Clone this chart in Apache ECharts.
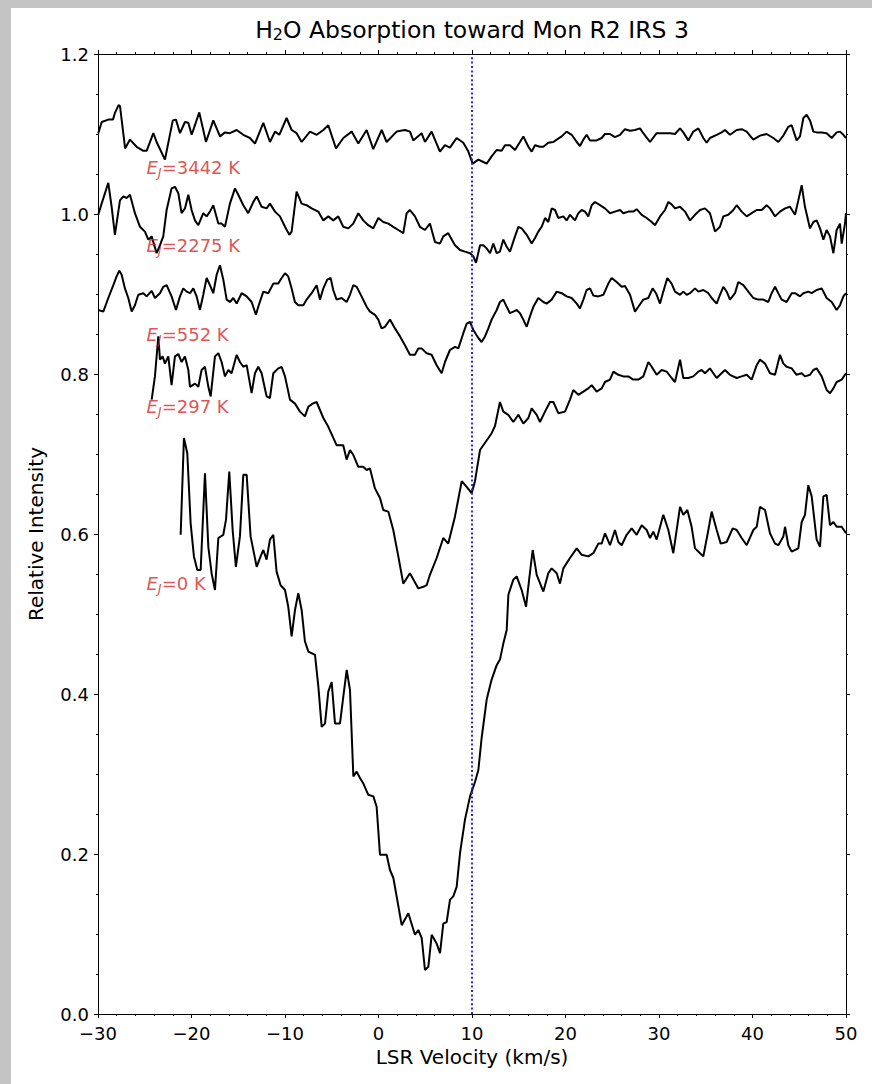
<!DOCTYPE html>
<html>
<head>
<meta charset="utf-8">
<script src="https://cdn.jsdelivr.net/npm/echarts@6/dist/echarts.min.js"></script>
<style>
html,body{margin:0;padding:0;background:#c4c4c4;}
#chart{width:872px;height:1084px;}
</style>
</head>
<body>
<div id="chart"></div>
<script>
// ---- data ----
const xTicks = [-30, -20, -10, 0, 10, 20, 30, 40, 50];
const yTicks = [0.0, 0.2, 0.4, 0.6, 0.8, 1.0, 1.2];
const restVelocity = 10;

const vel3442 = [-29.97,-29.6,-28.9,-28.4,-28.2,-27.8,-27.65,-27.1,-26.58,-25.87,-25.15,-24.8,-24.08,-23.73,-22.84,-22.0,-21.66,-21.23,-20.7,-20.34,-19.98,-19.17,-18.45,-17.67,-16.95,-16.42,-15.89,-15.17,-14.46,-13.75,-13.21,-12.32,-11.61,-11.07,-10.61,-9.83,-9.29,-8.76,-8.22,-7.33,-6.61,-5.9,-5.37,-4.55,-3.76,-2.87,-2.16,-1.27,-0.56,0.34,0.87,1.94,2.83,3.37,3.72,4.61,4.97,5.68,6.57,7.11,7.64,8.36,9.07,9.61,10.07,10.68,11.21,11.57,12.1,12.64,13.17,13.53,14.06,14.6,15.13,15.49,16.03,16.38,16.74,17.27,17.63,18.16,18.7,19.06,19.59,20.12,20.66,21.2,21.55,21.91,22.26,22.62,23.33,23.87,24.22,24.76,25.29,25.83,26.36,26.9,27.43,27.97,28.32,29.04,29.75,30.46,31.18,31.71,32.25,32.6,33.14,33.67,34.21,34.74,35.1,35.45,36.17,36.7,37.06,37.59,38.31,38.84,39.38,39.73,40.09,40.8,41.51,42.23,42.76,43.3,43.83,44.19,44.72,45.08,45.44,45.79,46.15,46.51,46.86,47.4,47.93,48.47,49.0,49.36,49.72,50.0];
const int3442 = [1.101,1.115,1.118,1.118,1.126,1.136,1.135,1.082,1.093,1.084,1.079,1.079,1.101,1.090,1.068,1.117,1.118,1.101,1.115,1.114,1.099,1.127,1.090,1.117,1.097,1.102,1.101,1.105,1.099,1.095,1.088,1.114,1.090,1.103,1.099,1.120,1.105,1.101,1.090,1.103,1.099,1.105,1.111,1.082,1.095,1.103,1.088,1.105,1.081,1.105,1.090,1.103,1.105,1.103,1.092,1.101,1.090,1.103,1.078,1.086,1.083,1.095,1.089,1.078,1.063,1.068,1.065,1.063,1.072,1.080,1.079,1.086,1.086,1.080,1.090,1.097,1.084,1.078,1.086,1.084,1.084,1.089,1.090,1.093,1.097,1.103,1.099,1.090,1.085,1.093,1.099,1.092,1.092,1.095,1.100,1.100,1.096,1.099,1.106,1.104,1.105,1.107,1.101,1.090,1.101,1.101,1.101,1.100,1.107,1.102,1.092,1.103,1.107,1.095,1.089,1.095,1.099,1.102,1.105,1.099,1.105,1.106,1.103,1.098,1.093,1.098,1.100,1.095,1.090,1.098,1.109,1.111,1.092,1.097,1.120,1.124,1.117,1.103,1.102,1.102,1.101,1.095,1.102,1.103,1.099,1.095];

const vel2275 = [-29.97,-29.61,-28.9,-28.54,-28.19,-27.65,-27.29,-26.94,-26.58,-26.05,-25.51,-24.98,-24.62,-24.26,-23.73,-23.37,-23.02,-22.66,-22.13,-21.77,-21.41,-21.06,-20.7,-20.34,-19.99,-19.63,-19.27,-18.74,-18.38,-18.03,-17.67,-17.13,-16.78,-16.42,-15.89,-15.35,-15.0,-14.46,-13.93,-13.39,-13.03,-12.5,-11.97,-11.61,-11.07,-10.54,-10.0,-9.54,-9.29,-8.76,-8.22,-7.69,-7.15,-6.44,-5.9,-5.37,-4.84,-4.3,-3.77,-3.23,-2.7,-2.16,-1.63,-1.09,-0.56,-0.02,0.51,1.05,1.58,2.12,2.65,3.01,3.36,3.9,4.43,4.97,5.5,6.04,6.57,6.93,7.46,8.18,8.72,9.25,9.79,10.14,10.43,10.86,11.21,11.57,11.93,12.28,12.64,12.99,13.35,13.71,14.06,14.6,14.96,15.31,15.85,16.38,16.74,17.09,17.45,17.81,18.16,18.52,18.88,19.23,19.77,20.12,20.48,21.02,21.37,21.73,22.09,22.44,22.8,23.15,23.69,24.22,24.76,25.29,25.83,26.19,26.72,27.25,27.61,28.15,28.68,29.22,29.57,30.11,30.64,31.0,31.35,31.71,32.25,32.78,33.32,33.85,34.39,34.92,35.45,35.99,36.52,36.88,37.41,37.95,38.31,38.84,39.38,39.91,40.45,40.98,41.51,41.87,42.41,42.94,43.48,44.01,44.55,44.9,45.26,45.61,46.15,46.51,46.86,47.22,47.58,47.93,48.29,48.65,49.0,49.36,49.54,49.89,50.0];
const int2275 = [0.999,1.013,1.039,1.009,0.974,1.017,1.022,1.020,1.024,1.001,0.984,0.978,0.968,0.972,0.951,0.961,0.972,1.005,1.032,1.034,1.026,1.001,1.007,1.024,1.005,0.992,0.986,1.001,0.997,1.003,1.011,0.988,0.988,0.984,1.013,1.032,1.024,1.011,1.001,1.015,1.022,1.009,1.007,1.013,1.003,0.997,0.984,0.974,0.978,1.028,1.013,1.011,1.007,1.003,0.992,0.997,0.992,0.997,0.984,0.982,0.988,1.001,0.992,0.986,0.982,0.995,0.990,0.988,0.984,0.980,0.976,1.001,1.005,0.997,0.984,0.980,0.988,0.965,0.963,0.972,0.976,0.961,0.955,0.953,0.951,0.947,0.939,0.961,0.961,0.957,0.951,0.963,0.951,0.953,0.968,0.959,0.953,0.972,0.984,0.982,0.974,0.963,0.970,0.978,0.984,0.995,0.990,1.007,1.005,0.995,0.997,0.992,0.999,0.992,1.001,1.005,1.003,0.997,1.011,1.015,1.011,1.007,1.001,1.003,1.005,1.001,1.003,1.003,1.006,0.999,0.995,0.990,0.986,0.997,1.005,1.015,1.012,1.007,1.009,1.003,0.992,0.999,1.005,1.007,1.001,0.978,0.984,0.997,0.999,1.005,1.011,1.003,0.997,1.001,1.005,1.005,1.011,1.007,0.997,1.003,1.007,1.009,0.999,1.017,1.036,1.009,0.982,0.990,0.992,0.982,0.968,0.980,0.972,0.951,0.980,0.988,0.963,0.988,1.001];

const vel552 = [-29.97,-29.43,-28.9,-28.36,-28.01,-27.72,-27.47,-27.12,-26.76,-26.4,-26.05,-25.69,-25.15,-24.8,-24.26,-23.91,-23.37,-23.02,-22.66,-22.13,-21.66,-21.23,-20.88,-20.52,-20.16,-19.81,-19.45,-19.1,-18.74,-18.38,-18.03,-17.67,-17.31,-16.96,-16.6,-16.24,-15.89,-15.53,-15.17,-14.64,-14.1,-13.57,-13.11,-12.86,-12.32,-11.79,-11.25,-10.72,-10.36,-10.0,-9.65,-9.29,-8.94,-8.58,-8.04,-7.69,-7.15,-6.62,-6.26,-5.9,-5.48,-5.12,-4.84,-4.48,-3.94,-3.41,-3.05,-2.7,-2.34,-1.81,-1.27,-0.91,-0.38,-0.02,0.33,0.69,1.23,1.76,2.3,2.83,3.36,3.9,4.26,4.61,5.15,5.68,6.22,6.75,7.11,7.64,8.18,8.54,9.07,9.43,9.79,10.14,10.68,11.03,11.39,11.75,12.1,12.64,12.99,13.35,13.71,14.06,14.42,14.78,15.13,15.49,15.85,16.2,16.56,17.09,17.63,17.99,18.52,19.06,19.59,20.12,20.66,21.2,21.55,21.91,22.26,22.62,22.98,23.51,24.05,24.58,24.94,25.47,26.01,26.36,26.9,27.43,27.79,28.32,28.86,29.32,29.68,30.11,30.46,30.89,31.35,31.71,32.25,32.6,32.96,33.32,33.85,34.21,34.74,35.28,35.63,36.17,36.52,36.88,37.24,37.59,38.13,38.48,39.02,39.55,40.09,40.62,41.16,41.69,42.05,42.41,42.76,43.12,43.65,44.19,44.55,45.08,45.44,45.97,46.33,46.86,47.4,47.93,48.47,49.0,49.36,49.72,50.0];
const int552 = [0.880,0.878,0.895,0.911,0.922,0.929,0.924,0.907,0.895,0.878,0.886,0.899,0.901,0.897,0.904,0.895,0.901,0.909,0.911,0.897,0.880,0.897,0.907,0.903,0.901,0.907,0.897,0.880,0.899,0.920,0.911,0.901,0.924,0.936,0.918,0.893,0.890,0.895,0.888,0.901,0.897,0.890,0.874,0.884,0.903,0.901,0.913,0.913,0.920,0.926,0.922,0.907,0.890,0.886,0.886,0.893,0.901,0.911,0.893,0.907,0.918,0.920,0.905,0.893,0.895,0.890,0.899,0.911,0.909,0.897,0.884,0.878,0.874,0.868,0.857,0.859,0.868,0.857,0.847,0.836,0.824,0.824,0.832,0.832,0.826,0.824,0.811,0.801,0.815,0.830,0.834,0.832,0.851,0.863,0.865,0.855,0.845,0.840,0.847,0.857,0.868,0.880,0.890,0.893,0.884,0.876,0.878,0.880,0.876,0.868,0.859,0.872,0.884,0.895,0.890,0.888,0.893,0.903,0.901,0.897,0.895,0.888,0.882,0.893,0.905,0.907,0.898,0.897,0.899,0.913,0.920,0.915,0.909,0.910,0.899,0.878,0.884,0.893,0.895,0.907,0.901,0.888,0.903,0.920,0.913,0.903,0.899,0.903,0.899,0.901,0.907,0.903,0.905,0.901,0.895,0.888,0.899,0.909,0.903,0.893,0.901,0.915,0.911,0.903,0.895,0.893,0.893,0.890,0.901,0.909,0.901,0.893,0.890,0.901,0.901,0.897,0.901,0.903,0.901,0.905,0.907,0.895,0.890,0.880,0.886,0.897,0.901];

const vel297 = [-24.26,-23.91,-23.55,-23.37,-23.09,-22.84,-22.48,-22.13,-21.77,-21.41,-21.06,-20.7,-20.34,-20.16,-19.63,-19.27,-18.92,-18.56,-18.2,-17.95,-17.49,-17.13,-16.78,-16.42,-16.06,-15.71,-15.17,-14.82,-14.46,-14.1,-13.57,-13.21,-12.86,-12.5,-11.97,-11.61,-11.25,-10.72,-10.36,-10.0,-9.47,-8.93,-8.4,-7.87,-7.51,-7.05,-6.62,-6.26,-5.9,-5.37,-4.48,-3.77,-3.41,-3.05,-2.7,-2.16,-1.63,-1.27,-0.91,-0.38,0.16,0.51,1.05,1.58,2.12,2.65,3.36,4.26,4.79,5.15,5.5,6.22,6.93,7.46,8.18,8.9,9.43,9.96,10.32,10.86,11.21,11.75,12.1,12.46,12.99,13.35,13.88,14.42,14.96,15.49,16.03,16.38,16.92,17.27,17.81,18.34,18.7,19.23,19.95,20.48,20.84,21.37,21.91,22.44,22.8,23.33,23.87,24.22,24.76,25.12,25.65,26.19,26.72,27.25,27.79,28.32,28.86,29.22,29.75,30.29,30.82,31.35,31.71,32.25,32.6,33.14,33.67,34.21,34.56,34.92,35.45,35.81,36.17,36.52,37.06,37.59,38.31,38.84,39.38,39.91,40.45,40.8,41.34,41.87,42.41,42.94,43.3,43.65,44.19,44.72,45.26,45.61,46.15,46.51,46.86,47.4,47.93,48.29,48.65,49.0,49.54,50.0];
const int297 = [0.768,0.797,0.847,0.818,0.822,0.813,0.822,0.786,0.822,0.825,0.815,0.822,0.805,0.784,0.788,0.784,0.805,0.809,0.784,0.772,0.822,0.826,0.815,0.797,0.805,0.801,0.824,0.815,0.809,0.811,0.776,0.801,0.809,0.801,0.772,0.770,0.801,0.807,0.809,0.797,0.768,0.763,0.753,0.747,0.759,0.763,0.765,0.755,0.745,0.734,0.711,0.711,0.693,0.705,0.699,0.684,0.684,0.680,0.682,0.657,0.645,0.630,0.628,0.605,0.572,0.538,0.551,0.532,0.534,0.536,0.549,0.570,0.595,0.588,0.622,0.666,0.659,0.651,0.666,0.705,0.711,0.720,0.726,0.735,0.765,0.753,0.749,0.740,0.749,0.738,0.745,0.757,0.749,0.740,0.753,0.765,0.765,0.751,0.753,0.768,0.780,0.774,0.778,0.782,0.786,0.778,0.782,0.790,0.793,0.803,0.799,0.797,0.797,0.793,0.793,0.797,0.815,0.809,0.799,0.805,0.803,0.795,0.790,0.818,0.795,0.795,0.797,0.803,0.805,0.801,0.807,0.801,0.795,0.799,0.805,0.799,0.795,0.797,0.799,0.793,0.811,0.818,0.813,0.801,0.799,0.824,0.813,0.809,0.807,0.799,0.801,0.797,0.799,0.805,0.807,0.797,0.780,0.776,0.782,0.790,0.793,0.801];

const vel0 = [-21.16,-20.81,-20.45,-20.09,-19.74,-19.38,-19.02,-18.56,-18.2,-17.85,-17.49,-17.13,-16.6,-16.31,-15.96,-15.6,-15.25,-14.82,-14.46,-14.1,-13.68,-13.03,-12.61,-12.32,-11.97,-11.61,-11.25,-10.9,-10.47,-10.0,-9.65,-9.29,-8.93,-8.58,-8.22,-7.87,-7.5,-6.79,-6.43,-6.08,-5.72,-5.37,-5.01,-4.65,-4.12,-3.76,-3.4,-3.05,-2.69,-2.34,-1.98,-1.62,-1.09,-0.55,-0.2,0.16,0.87,1.23,1.59,1.94,2.48,3.19,3.9,4.26,4.62,4.97,5.33,5.69,6.22,6.58,6.93,7.29,7.65,8.0,8.36,8.72,9.25,9.79,10.32,10.68,11.03,11.57,12.1,12.64,12.99,13.35,13.71,13.89,14.42,14.78,15.31,15.78,16.13,16.49,16.92,17.63,18.16,18.52,19.06,19.41,19.77,20.48,21.2,21.73,22.44,22.98,23.51,23.87,24.22,24.76,25.29,25.65,26.01,26.54,27.08,27.61,28.15,28.68,29.04,29.39,29.75,30.46,31.0,31.53,32.25,32.6,33.03,33.49,33.85,34.39,34.74,35.28,35.63,36.17,36.6,37.24,37.88,38.31,38.84,39.38,40.09,40.45,40.8,41.34,41.87,42.41,42.76,43.3,43.48,43.83,44.19,44.9,45.26,45.61,45.97,46.33,46.86,47.22,47.58,47.93,48.29,48.65,49.0,49.54,50.0];
const int0 = [0.599,0.720,0.701,0.613,0.572,0.555,0.555,0.676,0.584,0.551,0.530,0.595,0.599,0.618,0.678,0.605,0.559,0.597,0.674,0.674,0.597,0.559,0.572,0.580,0.568,0.593,0.599,0.553,0.536,0.530,0.509,0.472,0.505,0.526,0.505,0.466,0.453,0.449,0.409,0.359,0.363,0.403,0.415,0.363,0.363,0.397,0.430,0.405,0.297,0.303,0.295,0.288,0.274,0.272,0.259,0.199,0.199,0.180,0.170,0.147,0.111,0.126,0.099,0.105,0.095,0.055,0.059,0.099,0.088,0.076,0.113,0.115,0.143,0.147,0.159,0.201,0.243,0.272,0.290,0.305,0.345,0.393,0.418,0.436,0.443,0.463,0.480,0.524,0.543,0.547,0.530,0.509,0.545,0.580,0.549,0.528,0.551,0.557,0.551,0.538,0.557,0.570,0.582,0.574,0.572,0.576,0.588,0.588,0.601,0.586,0.605,0.590,0.586,0.599,0.607,0.599,0.611,0.605,0.595,0.603,0.593,0.624,0.605,0.576,0.634,0.624,0.630,0.609,0.582,0.576,0.572,0.605,0.628,0.605,0.588,0.590,0.607,0.605,0.595,0.586,0.605,0.609,0.634,0.630,0.601,0.588,0.586,0.597,0.609,0.586,0.578,0.582,0.615,0.624,0.661,0.647,0.593,0.584,0.647,0.649,0.611,0.615,0.609,0.609,0.601];

const labelText = ['3442', '2275', '552', '297', '0'];
const labelVel = [-24.87, -24.87, -24.87, -24.87, -24.87];
const labelInt = [1.058, 0.961, 0.849, 0.759, 0.538];

// ---- chart ----
const pairs = (xs, ys) => xs.map((x, i) => [x, ys[i]]);
const spectra = [[vel3442, int3442], [vel2275, int2275], [vel552, int552], [vel297, int297], [vel0, int0]];
const FONT = 'DejaVu Sans';
const RED = '#d62728';
const fmtX = v => (v < 0 ? '\u2212' + Math.abs(v) : String(v));

const chart = echarts.init(document.getElementById('chart'), null, {renderer: 'svg'});

const baseX = {
  type: 'value', min: xTicks[0], max: xTicks[xTicks.length - 1], interval: 10,
  axisLine: {show: true, onZero: false, lineStyle: {color: '#000', width: 1}},
  axisTick: {show: true, inside: false, length: 4, lineStyle: {color: '#000', width: 1}},
  minorTick: {show: true, splitNumber: 5, length: 2, lineStyle: {color: '#000', width: 1}},
  splitLine: {show: false}
};
const baseY = {
  type: 'value', min: yTicks[0], max: yTicks[yTicks.length - 1], interval: 0.2,
  axisLine: {show: true, onZero: false, lineStyle: {color: '#000', width: 1}},
  axisTick: {show: true, inside: false, length: 4, lineStyle: {color: '#000', width: 1}},
  minorTick: {show: true, splitNumber: 4, length: 2, lineStyle: {color: '#000', width: 1}},
  splitLine: {show: false}
};

const series = spectra.map(([xs, ys]) => ({
  type: 'line', data: pairs(xs, ys), showSymbol: false, symbol: 'none',
  lineStyle: {color: '#000', width: 2}, clip: true, z: 3
}));
series.push({
  type: 'scatter', data: pairs(labelVel, labelInt), symbolSize: 1,
  itemStyle: {color: 'rgba(0,0,0,0)'}, silent: true, z: 4,
  label: {
    show: true, position: 'right', distance: 0,
    formatter: p => '{e|E}{j|J}{t|=' + labelText[p.dataIndex] + ' K}',
    rich: {
      e: {fontFamily: FONT, fontSize: 18, fontStyle: 'italic', color: RED},
      j: {fontFamily: FONT, fontSize: 13, fontStyle: 'italic', color: RED, padding: [10, 0, 0, 0]},
      t: {fontFamily: FONT, fontSize: 18, color: RED}
    }
  }
});
series.push({
  type: 'line', data: [[restVelocity, yTicks[0]], [restVelocity, yTicks[yTicks.length - 1]]],
  showSymbol: false, symbol: 'none', z: 5,
  lineStyle: {color: '#2a2ae6', width: 2, type: [2, 2.4]}
});

chart.setOption({
  animation: false,
  backgroundColor: '#c4c4c4',
  graphic: [
    {type: 'rect', shape: {x: 11, y: 8, width: 872, height: 1084}, style: {fill: '#fff'}, z: -10, silent: true},
    {type: 'text', x: 472, y: 30, z: 10,
     style: {text: '{a|H}{s|2}{a|O Absorption toward Mon R2 IRS 3}', align: 'center', verticalAlign: 'middle',
       rich: {a: {fontFamily: FONT, fontSize: 23.5, fill: '#000', color: '#000'},
              s: {fontFamily: FONT, fontSize: 16, fill: '#000', color: '#000', padding: [9, 0, 0, 0]}}}}
  ],
  grid: {left: 98, right: 26, top: 54, bottom: 70, containLabel: false},
  xAxis: [
    Object.assign({}, baseX, {
      position: 'bottom',
      axisLabel: {show: true, color: '#000', fontFamily: FONT, fontSize: 18, lineHeight: 18, margin: 10, formatter: fmtX},
      name: 'LSR Velocity (km/s)', nameLocation: 'middle', nameGap: 31,
      nameTextStyle: {color: '#000', fontFamily: FONT, fontSize: 20}
    }),
    Object.assign({}, baseX, {position: 'top', axisLabel: {show: false}})
  ],
  yAxis: [
    Object.assign({}, baseY, {
      position: 'left',
      axisLabel: {show: true, color: '#000', fontFamily: FONT, fontSize: 18, lineHeight: 18, margin: 9, formatter: v => v.toFixed(1)},
      name: 'Relative Intensity', nameLocation: 'middle', nameGap: 52, nameRotate: 90,
      nameTextStyle: {color: '#000', fontFamily: FONT, fontSize: 20}
    }),
    Object.assign({}, baseY, {position: 'right', axisLabel: {show: false}})
  ],
  series: series
});
</script>
</body>
</html>
